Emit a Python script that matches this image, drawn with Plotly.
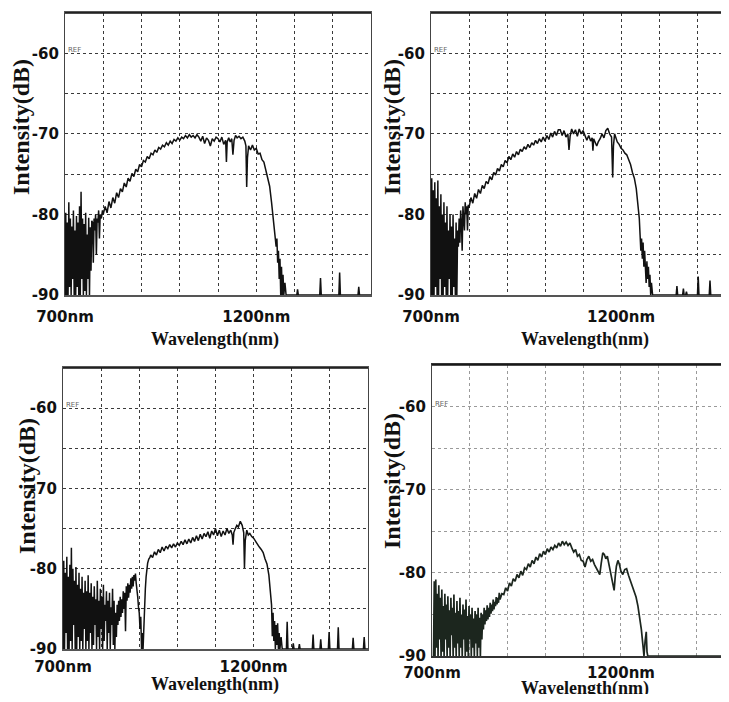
import plotly.graph_objects as go

# ---------------- data ----------------
X_TICKS = [700, 800, 900, 1000, 1100, 1200, 1300, 1400, 1500]
X_TICK_TEXT = ["700nm", "", "", "", "", "1200nm", "", "", ""]
Y_TICKS = [-90, -85, -80, -75, -70, -65, -60, -55]
Y_TICK_TEXT = ["-90", "", "-80", "", "-70", "", "-60", ""]

# panel A (top left)
a_noise_nm = [700, 702, 704, 706, 708, 710, 712, 714, 716, 718, 720, 722, 724, 726, 728, 730, 732, 734,
              736, 738, 740, 742, 744, 746, 748, 750, 752, 754, 756, 758, 760, 762, 764, 766, 768, 770]
a_noise_db = [-90, -79.8, -90, -81, -90, -78.5, -89, -80.5, -90, -81.5, -88, -79.5, -90, -82, -90, -80.2, -89, -81,
              -90, -79, -90, -77.2, -88, -80.5, -90, -81.2, -89.5, -79.8, -90, -82.5, -88, -80.4, -90, -81.6, -87, -80.8]
a_edge_nm = [772, 774, 776, 778, 780, 782, 784, 786, 788, 790, 792, 795, 798, 800]
a_edge_db = [-81, -86, -80.5, -82, -80, -85, -80.5, -81, -79.5, -83, -80, -80.5, -79.5, -80]
a_rise_nm = [805, 810, 815, 820, 825, 830, 835, 840, 845, 850, 855, 860, 865, 870, 875, 880, 885, 890, 895, 900,
             905, 910, 915, 920, 925, 930, 935, 940, 945, 950, 955, 960, 965, 970, 975, 980, 985, 990, 995, 1000,
             1005, 1010, 1015, 1020, 1025, 1030, 1035, 1040, 1045, 1050, 1055, 1060, 1065, 1070, 1075, 1080, 1085,
             1090, 1095]
a_rise_db = [-79.0, -79.8, -78.4, -79.2, -77.9, -78.6, -77.3, -77.9, -76.8, -77.2, -76.1, -76.6, -75.5, -75.9, -74.9,
             -75.3, -74.4, -74.7, -73.8, -74.1, -73.3, -73.5, -72.8, -73.1, -72.4, -72.6, -72.0, -72.3, -71.7, -71.9,
             -71.4, -71.6, -71.1, -71.4, -70.9, -71.2, -70.7, -70.9, -70.5, -70.8, -70.4, -70.6, -70.2, -70.5, -70.1,
             -70.4, -70.2, -70.5, -70.1, -70.4, -70.9, -70.3, -71.2, -70.5, -70.8, -71.5, -70.6, -70.9, -70.4]
a_top_nm = [1100, 1105, 1110, 1115, 1120, 1122, 1124, 1128, 1132, 1136, 1139, 1142, 1146, 1150, 1155, 1160, 1165,
            1170, 1173, 1175, 1177, 1180, 1185, 1190, 1195, 1200, 1205, 1210, 1215, 1220]
a_top_db = [-70.6, -71.0, -70.4, -71.3, -70.8, -73.5, -71.0, -70.5, -71.0, -70.6, -72.6, -70.8, -70.2, -70.5, -70.3,
            -70.6, -70.4, -70.9, -71.5, -76.6, -73.0, -71.5, -72.0, -71.4, -72.0, -71.8, -72.5, -72.4, -73.2, -73.5]
a_fall_nm = [1225, 1230, 1235, 1240, 1245, 1250, 1252, 1254, 1256, 1258, 1260, 1262, 1264, 1266, 1268, 1270, 1272,
             1275, 1278]
a_fall_db = [-74.5, -75.5, -76.5, -78.5, -80.5, -82.5, -84, -83, -86, -84.5, -88, -85.5, -90, -86.5, -90, -87.5, -90,
             -88.5, -90]
a_tail_nm = [1306, 1308, 1310, 1366, 1368, 1370, 1416, 1418, 1420, 1466, 1468, 1470, 1500]
a_tail_db = [-90, -89.3, -90, -90, -87.9, -90, -90, -87.2, -90, -90, -89, -90, -90]

# panel B (top right)
b_noise_nm = [700, 702, 704, 706, 708, 710, 712, 714, 716, 718, 720, 722, 724, 726, 728, 730, 732, 734,
              736, 738, 740, 742, 744, 746, 748, 750, 752, 754, 756, 758, 760, 762, 764, 766, 768]
b_noise_db = [-90, -75.5, -90, -77, -90, -76, -89, -78, -90, -75.8, -90, -79, -88, -77.5, -90, -80, -90, -78.5,
              -89, -81, -90, -79, -90, -82, -88, -80, -90, -81.5, -90, -80, -89, -83, -90, -81, -90]
b_edge_nm = [770, 772, 774, 776, 778, 780, 782, 784, 786, 788, 790, 792, 794, 796, 798, 800]
b_edge_db = [-82, -84, -80.5, -83.5, -79.5, -81, -84.5, -79, -80.5, -82, -78.5, -80, -79, -82, -78.8, -79.2]
b_rise_nm = [805, 810, 815, 820, 825, 830, 835, 840, 845, 850, 855, 860, 865, 870, 875, 880, 885, 890, 895, 900,
             905, 910, 915, 920, 925, 930, 935, 940, 945, 950, 955, 960, 965, 970, 975, 980, 985, 990, 995, 1000,
             1005, 1010, 1015, 1020, 1025, 1030, 1035]
b_rise_db = [-77.9, -78.6, -77.4, -78.0, -76.9, -77.4, -76.4, -76.8, -75.9, -76.2, -75.3, -75.7, -74.8, -75.1, -74.3,
             -74.6, -73.8, -74.1, -73.3, -73.6, -72.8, -73.2, -72.5, -72.9, -72.2, -72.6, -71.9, -72.2, -71.6, -71.9,
             -71.3, -71.7, -71.1, -71.4, -70.8, -71.2, -70.6, -71.0, -70.4, -70.9, -70.2, -70.7, -69.9, -70.4, -69.7,
             -70.2, -69.5]
b_top_nm = [1040, 1045, 1050, 1055, 1060, 1063, 1066, 1070, 1075, 1080, 1085, 1090, 1095, 1100, 1105, 1110, 1115,
            1120, 1124, 1126, 1128, 1132, 1136, 1140, 1145, 1150, 1155, 1160, 1165, 1170, 1175, 1178, 1180, 1183,
            1186, 1190, 1195, 1200, 1205, 1210, 1215, 1220, 1225, 1230, 1235, 1240]
b_top_db = [-69.5, -70.2, -69.6, -70.4, -70.0, -72.0, -70.3, -69.4, -70.0, -69.5, -70.3, -69.4, -70.0, -69.6, -70.3,
            -70.8, -70.2, -70.9, -70.5, -72.1, -70.6, -71.2, -71.5, -71.0, -70.6, -70.0, -70.5, -69.6, -69.3, -70.0,
            -70.4, -75.4, -71.5, -70.0, -70.4, -71.0, -71.3, -71.8, -72.0, -72.4, -72.6, -73.3, -73.8, -74.8, -75.5,
            -76.8]
b_fall_nm = [1245, 1248, 1250, 1252, 1254, 1256, 1258, 1260, 1262, 1264, 1266, 1268, 1270, 1272, 1274, 1276, 1278,
             1280, 1283]
b_fall_db = [-79.0, -80.5, -82.5, -84.5, -83.0, -85.5, -83.5, -86.5, -84.5, -86.0, -88.5, -85.8, -88.0, -86.5, -89.0,
             -87.5, -90, -88.5, -90]
b_tail_nm = [1345, 1347, 1349, 1362, 1364, 1366, 1370, 1372, 1374, 1401, 1403, 1405, 1432, 1434, 1436, 1484]
b_tail_db = [-90, -88.9, -90, -90, -89.2, -90, -90, -89.6, -90, -90, -87.7, -90, -90, -88.2, -90, -90]

# panel C (bottom left)
c_noise_nm = [700, 702, 704, 706, 708, 710, 712, 714, 716, 718, 720, 722, 724, 726, 728, 730, 732, 734, 736, 738,
              740, 742, 744, 746, 748, 750, 752, 754, 756, 758, 760, 762, 764, 766, 768, 770, 772, 774, 776, 778,
              780, 782, 784, 786, 788, 790, 792, 794, 796, 798, 800, 802, 804, 806, 808, 810, 812, 814, 816, 818,
              820, 822, 824, 826, 828, 830, 832, 834, 836]
c_noise_db = [-90, -79, -90, -80.5, -88, -78.5, -90, -81, -90, -79.5, -89, -77.4, -90, -80, -87, -81.5, -90, -79.8,
              -90, -82, -88.5, -80.5, -90, -82.5, -89, -81, -90, -83, -87.5, -81.5, -90, -82.8, -89, -80.8, -90, -83,
              -88, -81.8, -90, -83.5, -89.5, -82.2, -87, -83.8, -90, -81.5, -88.5, -84, -90, -82.5, -87.5, -83.5, -90,
              -82, -89, -84.5, -86.5, -82.8, -90, -84, -88, -83, -90, -84.8, -87, -82.5, -89.5, -84, -90]
c_edge_nm = [838, 840, 842, 844, 846, 848, 850, 852, 854, 856, 858, 860, 862, 864, 866, 868, 870, 872, 874, 876,
             878, 880, 882, 884, 886, 888, 890, 892, 894, 896, 898, 900, 902, 904, 906, 908, 910, 912, 914, 916,
             918, 920, 922, 925, 928]
c_edge_db = [-85.5, -88.5, -84.5, -87, -84, -86.5, -83.5, -86, -83.8, -85.5, -82.8, -85, -83, -87.8, -82.2, -84,
             -81.8, -83.6, -82, -83, -81.2, -82.5, -81, -82.2, -80.8, -81.5, -80.6, -81.8, -82.4, -83.5, -84.8, -85.5,
             -87.5, -86, -90, -88, -90, -86.5, -84, -82.5, -81, -80, -79.3, -78.8, -78.6]
c_top_nm = [930, 935, 940, 945, 950, 955, 960, 965, 970, 975, 980, 985, 990, 995, 1000, 1005, 1010, 1015, 1020,
            1025, 1030, 1035, 1040, 1045, 1050, 1055, 1060, 1065, 1070, 1075, 1080, 1085, 1090, 1095, 1100, 1105,
            1110, 1115, 1120, 1125, 1130, 1135, 1140, 1144, 1146, 1148, 1152, 1156, 1160, 1165, 1170, 1174, 1176,
            1178, 1182, 1186, 1190, 1195, 1200, 1205, 1210, 1215, 1220, 1225, 1230, 1235, 1240]
c_top_db = [-78.3, -78.6, -77.9, -78.3, -77.6, -78.0, -77.3, -77.8, -77.2, -77.5, -77.0, -77.4, -76.9, -77.3, -76.8,
            -77.1, -76.6, -77.0, -76.4, -76.9, -76.3, -76.8, -76.1, -76.6, -75.9, -76.5, -75.7, -76.3, -75.6, -76.0,
            -75.4, -76.2, -75.3, -75.8, -75.0, -75.9, -75.2, -76.0, -75.3, -75.8, -75.0, -75.6, -75.2, -75.8, -77.0,
            -75.5, -75.0, -74.6, -74.8, -74.1, -74.6, -75.5, -79.9, -76.5, -75.2, -75.8, -75.6, -76.0, -76.2, -76.6,
            -77.0, -77.3, -77.6, -78.0, -78.8, -79.4, -80.8]
c_fall_nm = [1244, 1247, 1249, 1251, 1253, 1255, 1257, 1259, 1261, 1263, 1265, 1267, 1269, 1272, 1275]
c_fall_db = [-82.5, -84.5, -88.4, -85.5, -89, -86.5, -90, -87, -89.5, -86.8, -90, -88, -90, -88.5, -90]
c_tail_nm = [1286, 1288, 1290, 1302, 1304, 1306, 1318, 1320, 1322, 1354, 1356, 1358, 1374, 1376, 1378, 1396, 1398,
             1400, 1420, 1422, 1424, 1459, 1461, 1463, 1488, 1490, 1492, 1500]
c_tail_db = [-90, -86.6, -90, -90, -89.3, -90, -90, -89.4, -90, -90, -88.2, -90, -90, -88.8, -90, -90, -87.9, -90,
             -90, -87.3, -90, -90, -88.6, -90, -90, -88.5, -90, -90]

# panel D (bottom right)
d_noise_nm = [704, 706, 708, 710, 712, 714, 716, 718, 720, 722, 724, 726, 728, 730, 732, 734, 736, 738, 740, 742,
              744, 746, 748, 750, 752, 754, 756, 758, 760, 762, 764, 766, 768, 770, 772, 774, 776, 778, 780, 782,
              784, 786, 788, 790, 792, 794, 796, 798, 800, 802, 804, 806, 808, 810, 812, 814, 816, 818, 820, 822,
              824, 826, 828, 830, 832, 834]
d_noise_db = [-90, -81, -90, -80.8, -89, -82.5, -90, -81.5, -88, -83, -90, -82, -89.5, -84, -90, -82.5, -88, -83.8,
              -90, -82.8, -89, -84.5, -90, -83, -87.5, -84.2, -90, -82.6, -89, -84.8, -90, -83.4, -88.5, -84.6, -90,
              -83, -89, -85, -90, -83.8, -88, -84.4, -90, -83.2, -89.5, -85.2, -90, -84, -88, -85, -90, -84.2, -89,
              -85.5, -90, -84.6, -88.5, -85, -90, -84.2, -89, -85.4, -90, -84.8, -88, -85]
d_edge_nm = [836, 838, 840, 842, 844, 846, 848, 850, 852, 854, 856, 858, 860, 862, 864, 866, 868, 870, 872, 874,
             876, 878, 880]
d_edge_db = [-86.8, -84.2, -86.2, -84.5, -85.8, -83.9, -85.6, -84.2, -85.3, -83.6, -84.9, -83.8, -84.6, -83.2, -84.4,
             -83.5, -84.0, -82.9, -83.8, -83.0, -83.6, -82.4, -83.2]
d_rise_nm = [885, 890, 895, 900, 905, 910, 915, 920, 925, 930, 935, 940, 945, 950, 955, 960, 965, 970, 975, 980,
             985, 990, 995, 1000, 1005, 1010, 1015, 1020, 1025, 1030, 1035, 1040, 1045, 1050, 1055, 1060, 1065, 1070,
             1075, 1080, 1085, 1090, 1095, 1100]
d_rise_db = [-82.5, -82.6, -81.8, -82.2, -81.2, -81.6, -80.7, -81.0, -80.2, -80.6, -79.8, -80.3, -79.4, -79.6, -78.9,
             -79.3, -78.5, -78.9, -78.1, -78.5, -77.7, -78.1, -77.4, -77.8, -77.1, -77.5, -76.9, -77.2, -76.7, -77.0,
             -76.4, -76.8, -76.2, -76.6, -76.3, -76.7, -76.4, -77.0, -77.5, -77.2, -78.0, -77.8, -78.5, -78.6]
d_top_nm = [1105, 1110, 1115, 1120, 1125, 1130, 1135, 1140, 1144, 1148, 1152, 1156, 1160, 1164, 1168, 1172, 1176,
            1180, 1182, 1185, 1188, 1192, 1196, 1200, 1205, 1210, 1215, 1220, 1225, 1230, 1235, 1240, 1245, 1250,
            1254, 1258, 1261, 1264, 1267, 1269, 1271, 1486]
d_top_db = [-79.3, -78.4, -78.0, -78.6, -78.4, -79.0, -79.4, -79.8, -80.2, -78.8, -77.6, -77.8, -78.3, -78.0, -79.0,
            -79.6, -80.5, -81.5, -82.1, -80.4, -79.2, -78.5, -79.0, -79.8, -80.2, -79.6, -79.5, -80.3, -80.9, -81.6,
            -82.2, -82.9, -84.0, -85.3, -86.8, -88.6, -90, -88.2, -87.1, -89.5, -90, -90]

panels = [
    dict(nm=a_noise_nm + a_edge_nm + a_rise_nm + a_top_nm + a_fall_nm + a_tail_nm,
         db=a_noise_db + a_edge_db + a_rise_db + a_top_db + a_fall_db + a_tail_db),
    dict(nm=b_noise_nm + b_edge_nm + b_rise_nm + b_top_nm + b_fall_nm + b_tail_nm,
         db=b_noise_db + b_edge_db + b_rise_db + b_top_db + b_fall_db + b_tail_db),
    dict(nm=c_noise_nm + c_edge_nm + c_top_nm + c_fall_nm + c_tail_nm,
         db=c_noise_db + c_edge_db + c_top_db + c_fall_db + c_tail_db),
    dict(nm=d_noise_nm + d_edge_nm + d_rise_nm + d_top_nm,
         db=d_noise_db + d_edge_db + d_rise_db + d_top_db),
]
for p in panels:
    assert len(p['nm']) == len(p['db']), (len(p['nm']), len(p['db']))

# ---------------- layout (pixel boxes of each panel in the 729x702 picture) ----------------
PAGE_PAD = 8  # the browser page adds an 8px body margin
W, H = 729 - PAGE_PAD, 702 - 2 * PAGE_PAD  # keep the page free of scrollbars


def fx(px):
    return (px - PAGE_PAD) / W


def fy(py):
    return 1 - (py - PAGE_PAD) / H


# left, right, top(-55), bottom(-90), x max shown, ylabel pos, xlabel pos, x tick standoff
boxes = [
    dict(l=65, r=371, t=13, b=295, xmax=1500, ylab=(21, 127), xlab=(215, 339), so=7),
    dict(l=431, r=729, t=13, b=295, xmax=1484, ylab=(392, 127), xlab=(585, 339), so=7),
    dict(l=63, r=368, t=368, b=649, xmax=1500, ylab=(27, 486), xlab=(215, 684), so=3),
    dict(l=432, r=729, t=365, b=656, xmax=1486, ylab=(392, 481), xlab=(585, 688), so=2),
]

fig = go.Figure()
annotations = []
for i, (p, bx) in enumerate(zip(panels, boxes)):
    n = '' if i == 0 else str(i + 1)
    faded = (i == 3)
    fig.add_trace(go.Scatter(
        x=p['nm'], y=p['db'], mode='lines', xaxis='x' + n, yaxis='y' + n,
        line=dict(color='#1c261e' if faded else '#111111', width=1.7 if faded else 1.5),
        hoverinfo='skip', showlegend=False,
    ))
    grid_col = '#9a9a9a' if faded else '#3a3a3a'
    fig.update_layout({
        'xaxis' + n: dict(
            domain=[fx(bx['l']), min(1, fx(bx['r']))], range=[700, bx['xmax']], anchor='y' + n,
            tickvals=X_TICKS, ticktext=X_TICK_TEXT, ticks='', ticklabelstandoff=bx['so'],
            tickfont=dict(family='DejaVu Sans', size=15, color='#111', weight='bold'),
            showgrid=True, gridcolor=grid_col, griddash='dot', gridwidth=1,
            showline=True, linecolor='#555' if i < 3 else '#333', linewidth=1.6, mirror=True,
            zeroline=False, automargin=False, fixedrange=True,
        ),
        'yaxis' + n: dict(
            domain=[fy(bx['b']), fy(bx['t'])], range=[-90, -55], anchor='x' + n,
            tickvals=Y_TICKS, ticktext=Y_TICK_TEXT, ticks='', ticklabelstandoff=2,
            tickfont=dict(family='DejaVu Sans', size=15, color='#111', weight='bold'),
            showgrid=True, gridcolor=grid_col, griddash='dot', gridwidth=1,
            showline=True, linecolor='#444', linewidth=1.2, mirror=(i % 2 == 0),
            zeroline=False, automargin=False, fixedrange=True,
        ),
    })
    # top border of each screen
    fig.add_shape(type='line', xref='x' + n + ' domain', yref='y' + n + ' domain',
                  x0=0, x1=1, y0=1, y1=1, line=dict(color='#111', width=1.6))
    annotations.append(dict(
        x=fx(bx['ylab'][0]), y=fy(bx['ylab'][1]), xref='paper', yref='paper', text='Intensity(dB)',
        textangle=-90, showarrow=False, xanchor='center', yanchor='middle',
        font=dict(family='Liberation Serif', size=24, color='#111', weight='bold'),
    ))
    annotations.append(dict(
        x=fx(bx['xlab'][0]), y=fy(bx['xlab'][1]), xref='paper', yref='paper', text='Wavelength(nm)',
        showarrow=False, xanchor='center', yanchor='middle',
        font=dict(family='Liberation Serif', size=18, color='#111', weight='bold'),
    ))
    ref_py = bx['b'] - (bx['b'] - bx['t']) * 30 / 35 - 3
    annotations.append(dict(
        x=fx(bx['l'] + 1), y=fy(ref_py), xref='paper', yref='paper', text='REF',
        showarrow=False, xanchor='left', yanchor='middle',
        font=dict(family='DejaVu Sans', size=7, color='#666'),
    ))

fig.update_layout(
    width=W, height=H, margin=dict(l=0, r=0, t=0, b=0),
    paper_bgcolor='white', plot_bgcolor='white',
    annotations=annotations, showlegend=False,
)

fig.write_html("out.html")
